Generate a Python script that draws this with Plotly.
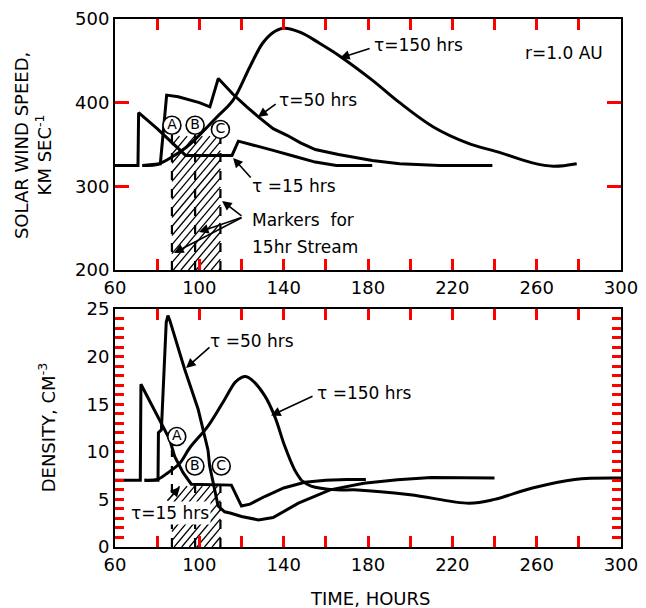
import numpy as np
import plotly.graph_objects as go

# ---------------- data ----------------
t15_speed_h = [60, 70.9, 71.2, 80, 93.5, 115.5, 118.5, 125, 135, 145, 155, 165, 182]
t15_speed_v = [325, 325, 388, 369, 337, 337, 354, 350, 343, 336, 329, 325, 325]

t50_speed_h = [73, 81.5, 84.5, 90, 100, 105, 109, 116, 122.5, 128, 135, 141.6, 148, 155, 166, 182, 195, 214, 239]
t50_speed_v = [325, 327, 409, 407, 400, 395, 429, 410, 395, 383, 369, 361, 352, 344, 338, 331, 327, 325, 325]

t150_speed_h = [73, 80, 87, 94, 100, 108, 116, 124, 130, 135, 140, 148, 157, 167, 182, 195, 211, 227, 243, 258, 268, 279]
t150_speed_v = [325, 326, 335, 347, 361, 382, 403, 443, 471, 484, 489, 484, 471, 455, 427, 400, 371, 352, 340, 328, 324, 327]

t15_dens_h = [60, 72, 72.3, 80.4, 85.9, 88.3, 92.3, 96.2, 115.2, 120, 124, 131, 140, 150, 160, 170, 179]
t15_dens_v = [7.0, 7.0, 17.1, 13.7, 11.3, 9.5, 7.8, 6.6, 6.5, 4.3, 4.5, 5.3, 6.2, 6.8, 7.0, 7.1, 7.1]

t50_dens_h = [74, 80.4, 80.6, 82, 84.3, 85.1, 86.0, 93, 99.4, 104.1, 104.9, 107.3, 108.9, 112, 115, 120, 128, 135, 147, 162, 178, 194, 210, 240]
t50_dens_v = [7.0, 7.0, 12.0, 12.3, 23.6, 24.3, 23.8, 18.7, 14.5, 10.2, 8.5, 6.0, 4.3, 3.7, 3.55, 3.2, 2.85, 3.1, 4.6, 6.0, 6.7, 7.07, 7.3, 7.25]

t150_dens_h = [74, 80, 85.1, 90.7, 95.4, 104.1, 112, 117, 119.9, 122, 124.6, 131, 135.8, 140.5, 145.2, 148.4]
t150_dens_v = [7.0, 7.1, 7.8, 8.8, 10.4, 12.7, 15.5, 17.3, 17.8, 17.9, 17.6, 15.9, 13.7, 10.6, 8.1, 7.0]
t150_dens_tail_h = [148.4, 153, 165, 175, 200, 228, 240, 258, 278, 300]
t150_dens_tail_v = [7.0, 6.4, 6.0, 6.0, 5.5, 4.6, 5.0, 6.2, 7.1, 7.25]

marker_names = ["A", "B", "C"]
marker_hours = [87, 98, 110]
marker_speed_top = [364, 367, 360]
marker_circle_speed = [373, 373, 368]
marker_dens_top = [10.2, 7.6, 7.6]
marker_circle_dens_h = [89.3, 97.9, 110.4]
marker_circle_dens = [11.6, 8.5, 8.5]

hatch_hours = [87, 110]
hatch_speed = [200, 360]
hatch_dens = [0, 6.4]

x_range = [60, 300]
speed_range = [200, 500]
dens_range = [0, 25]
x_tickvals = list(range(60, 301, 20))
x_ticktext = ["60", " ", "100", " ", "140", " ", "180", " ", "220", " ", "260", " ", "300"]
speed_tickvals = [200, 300, 400, 500]
speed_ticktext = ["200", "300", "400", "500"]
dens_tickvals = list(range(0, 26))
dens_ticktext = [str(v) if v % 5 == 0 else " " for v in dens_tickvals]


def hatch_lines(hrange, vrange, slope, step):
    h0, h1 = hrange
    v0, v1 = vrange
    span = (v1 - v0) / slope
    xs, ys = [], []
    for c in np.arange(h0 - span, h1, step):
        ha = max(h0, c)
        hb = min(h1, c + span)
        if hb > ha:
            xs += [float(ha), float(hb), None]
            ys += [float(v0 + slope * (ha - c)), float(v0 + slope * (hb - c)), None]
    return xs, ys


FONT = "DejaVu Sans"
fig = go.Figure()

curve = dict(color="black", width=3)
hatch_line = dict(color="black", width=1.3)

hx, hy = hatch_lines(hatch_hours, hatch_speed, 3.0, 3.6)
fig.add_trace(go.Scatter(x=hx, y=hy, mode="lines", line=hatch_line, xaxis="x", yaxis="y", hoverinfo="skip"))
hx, hy = hatch_lines(hatch_hours, hatch_dens, 0.265, 3.6)
fig.add_trace(go.Scatter(x=hx, y=hy, mode="lines", line=hatch_line, xaxis="x2", yaxis="y2", hoverinfo="skip"))

for h, top in zip(marker_hours, marker_speed_top):
    fig.add_trace(go.Scatter(x=[h, h], y=[200, top], mode="lines",
                             line=dict(color="black", width=2.2, dash="dash"), xaxis="x", yaxis="y"))
for h, top in zip(marker_hours, marker_dens_top):
    fig.add_trace(go.Scatter(x=[h, h], y=[0, top], mode="lines",
                             line=dict(color="black", width=2.2, dash="dash"), xaxis="x2", yaxis="y2"))

fig.add_trace(go.Scatter(x=t15_speed_h, y=t15_speed_v, mode="lines", line=curve, xaxis="x", yaxis="y"))
fig.add_trace(go.Scatter(x=t50_speed_h, y=t50_speed_v, mode="lines", line=curve, xaxis="x", yaxis="y"))
fig.add_trace(go.Scatter(x=t150_speed_h, y=t150_speed_v, mode="lines", line_shape="spline",
                         line=curve, xaxis="x", yaxis="y"))
fig.add_trace(go.Scatter(x=t15_dens_h, y=t15_dens_v, mode="lines", line=curve, xaxis="x2", yaxis="y2"))
fig.add_trace(go.Scatter(x=t50_dens_h, y=t50_dens_v, mode="lines", line=curve, xaxis="x2", yaxis="y2"))
fig.add_trace(go.Scatter(x=t150_dens_h, y=t150_dens_v, mode="lines", line_shape="spline",
                         line=curve, xaxis="x2", yaxis="y2"))
fig.add_trace(go.Scatter(x=t150_dens_tail_h, y=t150_dens_tail_v, mode="lines", line_shape="spline",
                         line=curve, xaxis="x2", yaxis="y2"))

circ = dict(symbol="circle", size=18, color="white", line=dict(color="black", width=1.6))
fig.add_trace(go.Scatter(x=marker_hours, y=marker_circle_speed, mode="markers+text", text=marker_names,
                         textposition="middle center", marker=circ,
                         textfont=dict(family=FONT, size=14, color="black"), xaxis="x", yaxis="y"))
fig.add_trace(go.Scatter(x=marker_circle_dens_h, y=marker_circle_dens, mode="markers+text", text=marker_names,
                         textposition="middle center", marker=circ,
                         textfont=dict(family=FONT, size=14, color="black"), xaxis="x2", yaxis="y2"))

xa = dict(range=x_range, showline=True, linewidth=2, linecolor="black", mirror="allticks",
          ticks="inside", ticklen=11, tickwidth=2.5, tickcolor="red",
          tickvals=x_tickvals, ticktext=x_ticktext, showgrid=False, zeroline=False,
          tickfont=dict(family=FONT, size=18, color="black"))

fig.update_layout(
    template="none",
    width=646, height=608,
    margin=dict(l=115, r=25, t=19, b=61),
    paper_bgcolor="white", plot_bgcolor="white",
    showlegend=False,
    xaxis=dict(xa, anchor="y", domain=[0, 1]),
    yaxis=dict(range=speed_range, domain=[0.5246, 1], anchor="x", showline=True, linewidth=2,
               linecolor="black", mirror="allticks", ticks="inside", ticklen=14, tickwidth=2.5,
               tickcolor="red", tickvals=speed_tickvals, ticktext=speed_ticktext,
               showgrid=False, zeroline=False, tickfont=dict(family=FONT, size=18, color="black")),
    xaxis2=dict(xa, anchor="y2", domain=[0, 1]),
    yaxis2=dict(range=dens_range, domain=[0, 0.4508], anchor="x2", showline=True, linewidth=2,
                linecolor="black", mirror="allticks", ticks="inside", ticklen=9, tickwidth=2.5,
                tickcolor="red", tickvals=dens_tickvals, ticktext=dens_ticktext,
                showgrid=False, zeroline=False, tickfont=dict(family=FONT, size=18, color="black")),
)

tf = dict(family=FONT, size=17, color="black")
ann = []
ann.append(dict(text="SOLAR WIND SPEED,", xref="paper", yref="paper", x=-0.186, y=0.761,
                textangle=-90, showarrow=False, font=dict(family=FONT, size=18, color="black"),
                xanchor="center", yanchor="middle"))
ann.append(dict(text="KM SEC<sup>-1</sup>", xref="paper", yref="paper", x=-0.140, y=0.742,
                textangle=-90, showarrow=False, font=dict(family=FONT, size=18, color="black"),
                xanchor="center", yanchor="middle"))
ann.append(dict(text="DENSITY, CM<sup>-3</sup>", xref="paper", yref="paper", x=-0.134, y=0.227,
                textangle=-90, showarrow=False, font=dict(family=FONT, size=18, color="black"),
                xanchor="center", yanchor="middle"))
ann.append(dict(text="TIME, HOURS", xref="paper", yref="paper", x=0.504, y=-0.0966,
                showarrow=False, font=dict(family=FONT, size=18, color="black"),
                xanchor="center", yanchor="middle"))


def label(text, x, y, xr, yr, anchor="left"):
    ann.append(dict(text=text, x=x, y=y, xref=xr, yref=yr, showarrow=False, font=tf,
                    xanchor=anchor, yanchor="middle"))


def arrow(x0, y0, x1, y1, xr, yr):
    ann.append(dict(text="", x=x1, y=y1, ax=x0, ay=y0, xref=xr, yref=yr, axref=xr, ayref=yr,
                    showarrow=True, arrowhead=2, arrowsize=1.2, arrowwidth=1.6, arrowcolor="black"))


label("τ=150 hrs", 181.9, 468.9, "x", "y")
arrow(181.5, 465.4, 166.7, 453.4, "x", "y")
label("r=1.0 AU", 273, 459.4, "x", "y", anchor="center")
label("τ=50 hrs", 136.9, 403.2, "x", "y")
arrow(136.9, 399.6, 127.8, 382.9, "x", "y")
label("τ =15 hrs", 124, 300.5, "x", "y")
arrow(125, 308.8, 116, 334, "x", "y")
label("Markers  for", 124, 259.9, "x", "y")
label("15hr Stream", 124, 227.6, "x", "y")
arrow(120.7, 263.4, 110.8, 282.6, "x", "y")
arrow(120.7, 263.4, 99.8, 245.5, "x", "y")
arrow(120.7, 263.4, 88.0, 220.4, "x", "y")

label("τ =50 hrs", 104.1, 21.6, "x2", "y2")
arrow(105.5, 21.1, 93.7, 18.8, "x2", "y2")
label("τ =150 hrs", 154.9, 16.2, "x2", "y2")
arrow(154.4, 15.9, 134, 13.8, "x2", "y2")
ann.append(dict(text="τ=15 hrs", x=66.6, y=3.6, xref="x2", yref="y2", showarrow=False, font=tf,
                xanchor="left", yanchor="middle", bgcolor="white"))
arrow(84.2, 4.7, 90.8, 6.3, "x2", "y2")

fig.update_layout(annotations=ann)

fig.write_html("out.html")
